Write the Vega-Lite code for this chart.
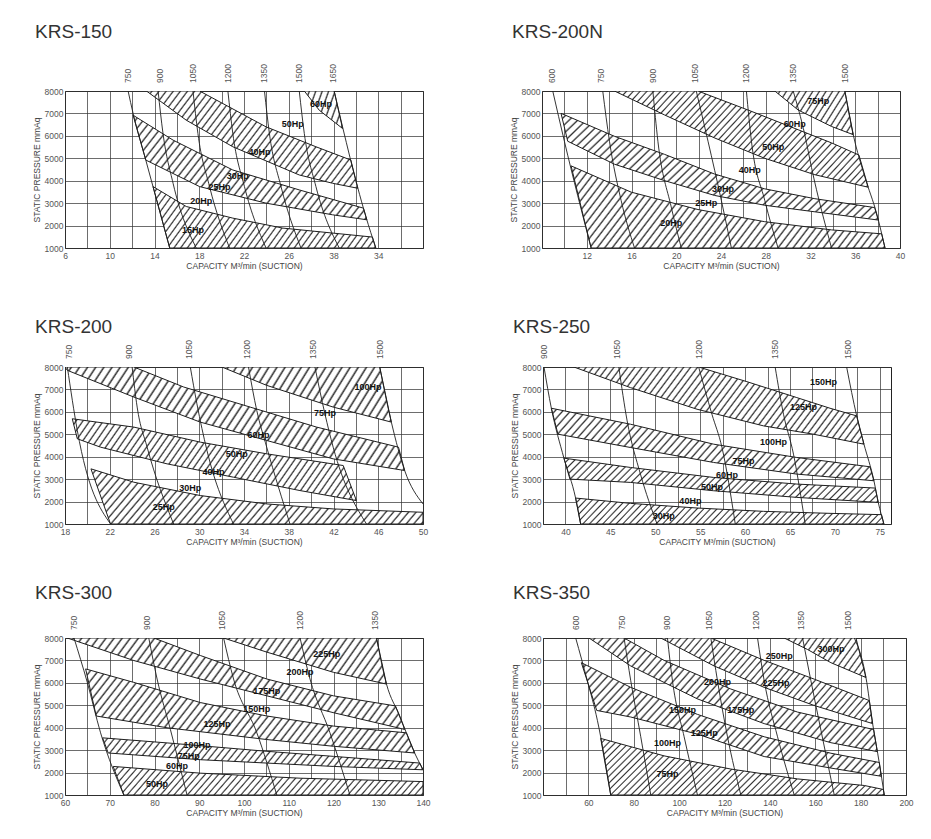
{
"$schema":"https://vega.github.io/schema/vega-lite/v6.json",
"background":"white",
"padding":{"left":31,"top":22,"right":5,"bottom":5},
"params":[
{"name":"s8","value":[{"offset":0,"color":"#fff"},{"offset":0.07,"color":"#fff"},{"offset":0.1,"color":"#333"},{"offset":0.125,"color":"#fff"},{"offset":0.195,"color":"#fff"},{"offset":0.225,"color":"#333"},{"offset":0.25,"color":"#fff"},{"offset":0.32,"color":"#fff"},{"offset":0.35,"color":"#333"},{"offset":0.375,"color":"#fff"},{"offset":0.445,"color":"#fff"},{"offset":0.475,"color":"#333"},{"offset":0.5,"color":"#fff"},{"offset":0.57,"color":"#fff"},{"offset":0.6,"color":"#333"},{"offset":0.625,"color":"#fff"},{"offset":0.695,"color":"#fff"},{"offset":0.725,"color":"#333"},{"offset":0.75,"color":"#fff"},{"offset":0.82,"color":"#fff"},{"offset":0.85,"color":"#333"},{"offset":0.875,"color":"#fff"},{"offset":0.945,"color":"#fff"},{"offset":0.975,"color":"#333"},{"offset":1,"color":"#fff"}]},
{"name":"s16","value":[{"offset":0,"color":"#fff"},{"offset":0.035,"color":"#fff"},{"offset":0.05,"color":"#333"},{"offset":0.0625,"color":"#fff"},{"offset":0.0975,"color":"#fff"},{"offset":0.1125,"color":"#333"},{"offset":0.125,"color":"#fff"},{"offset":0.16,"color":"#fff"},{"offset":0.175,"color":"#333"},{"offset":0.1875,"color":"#fff"},{"offset":0.2225,"color":"#fff"},{"offset":0.2375,"color":"#333"},{"offset":0.25,"color":"#fff"},{"offset":0.285,"color":"#fff"},{"offset":0.3,"color":"#333"},{"offset":0.3125,"color":"#fff"},{"offset":0.3475,"color":"#fff"},{"offset":0.3625,"color":"#333"},{"offset":0.375,"color":"#fff"},{"offset":0.41,"color":"#fff"},{"offset":0.425,"color":"#333"},{"offset":0.4375,"color":"#fff"},{"offset":0.4725,"color":"#fff"},{"offset":0.4875,"color":"#333"},{"offset":0.5,"color":"#fff"},{"offset":0.535,"color":"#fff"},{"offset":0.55,"color":"#333"},{"offset":0.5625,"color":"#fff"},{"offset":0.5975,"color":"#fff"},{"offset":0.6125,"color":"#333"},{"offset":0.625,"color":"#fff"},{"offset":0.66,"color":"#fff"},{"offset":0.675,"color":"#333"},{"offset":0.6875,"color":"#fff"},{"offset":0.7225,"color":"#fff"},{"offset":0.7375,"color":"#333"},{"offset":0.75,"color":"#fff"},{"offset":0.785,"color":"#fff"},{"offset":0.8,"color":"#333"},{"offset":0.8125,"color":"#fff"},{"offset":0.8475,"color":"#fff"},{"offset":0.8625,"color":"#333"},{"offset":0.875,"color":"#fff"},{"offset":0.91,"color":"#fff"},{"offset":0.925,"color":"#333"},{"offset":0.9375,"color":"#fff"},{"offset":0.9725,"color":"#fff"},{"offset":0.9875,"color":"#333"},{"offset":1,"color":"#fff"}]},
{"name":"s25","value":[{"offset":0,"color":"#fff"},{"offset":0.022,"color":"#fff"},{"offset":0.032,"color":"#333"},{"offset":0.04,"color":"#fff"},{"offset":0.062,"color":"#fff"},{"offset":0.072,"color":"#333"},{"offset":0.08,"color":"#fff"},{"offset":0.102,"color":"#fff"},{"offset":0.112,"color":"#333"},{"offset":0.12,"color":"#fff"},{"offset":0.142,"color":"#fff"},{"offset":0.152,"color":"#333"},{"offset":0.16,"color":"#fff"},{"offset":0.182,"color":"#fff"},{"offset":0.192,"color":"#333"},{"offset":0.2,"color":"#fff"},{"offset":0.222,"color":"#fff"},{"offset":0.232,"color":"#333"},{"offset":0.24,"color":"#fff"},{"offset":0.262,"color":"#fff"},{"offset":0.272,"color":"#333"},{"offset":0.28,"color":"#fff"},{"offset":0.302,"color":"#fff"},{"offset":0.312,"color":"#333"},{"offset":0.32,"color":"#fff"},{"offset":0.342,"color":"#fff"},{"offset":0.352,"color":"#333"},{"offset":0.36,"color":"#fff"},{"offset":0.382,"color":"#fff"},{"offset":0.392,"color":"#333"},{"offset":0.4,"color":"#fff"},{"offset":0.422,"color":"#fff"},{"offset":0.432,"color":"#333"},{"offset":0.44,"color":"#fff"},{"offset":0.462,"color":"#fff"},{"offset":0.472,"color":"#333"},{"offset":0.48,"color":"#fff"},{"offset":0.502,"color":"#fff"},{"offset":0.512,"color":"#333"},{"offset":0.52,"color":"#fff"},{"offset":0.542,"color":"#fff"},{"offset":0.552,"color":"#333"},{"offset":0.56,"color":"#fff"},{"offset":0.582,"color":"#fff"},{"offset":0.592,"color":"#333"},{"offset":0.6,"color":"#fff"},{"offset":0.622,"color":"#fff"},{"offset":0.632,"color":"#333"},{"offset":0.64,"color":"#fff"},{"offset":0.662,"color":"#fff"},{"offset":0.672,"color":"#333"},{"offset":0.68,"color":"#fff"},{"offset":0.702,"color":"#fff"},{"offset":0.712,"color":"#333"},{"offset":0.72,"color":"#fff"},{"offset":0.742,"color":"#fff"},{"offset":0.752,"color":"#333"},{"offset":0.76,"color":"#fff"},{"offset":0.782,"color":"#fff"},{"offset":0.792,"color":"#333"},{"offset":0.8,"color":"#fff"},{"offset":0.822,"color":"#fff"},{"offset":0.832,"color":"#333"},{"offset":0.84,"color":"#fff"},{"offset":0.862,"color":"#fff"},{"offset":0.872,"color":"#333"},{"offset":0.88,"color":"#fff"},{"offset":0.902,"color":"#fff"},{"offset":0.912,"color":"#333"},{"offset":0.92,"color":"#fff"},{"offset":0.942,"color":"#fff"},{"offset":0.952,"color":"#333"},{"offset":0.96,"color":"#fff"},{"offset":0.982,"color":"#fff"},{"offset":0.992,"color":"#333"},{"offset":1,"color":"#fff"}]},
{"name":"s40","value":[{"offset":0,"color":"#fff"},{"offset":0.014,"color":"#fff"},{"offset":0.02,"color":"#333"},{"offset":0.025,"color":"#fff"},{"offset":0.039,"color":"#fff"},{"offset":0.045,"color":"#333"},{"offset":0.05,"color":"#fff"},{"offset":0.064,"color":"#fff"},{"offset":0.07,"color":"#333"},{"offset":0.075,"color":"#fff"},{"offset":0.089,"color":"#fff"},{"offset":0.095,"color":"#333"},{"offset":0.1,"color":"#fff"},{"offset":0.114,"color":"#fff"},{"offset":0.12,"color":"#333"},{"offset":0.125,"color":"#fff"},{"offset":0.139,"color":"#fff"},{"offset":0.145,"color":"#333"},{"offset":0.15,"color":"#fff"},{"offset":0.164,"color":"#fff"},{"offset":0.17,"color":"#333"},{"offset":0.175,"color":"#fff"},{"offset":0.189,"color":"#fff"},{"offset":0.195,"color":"#333"},{"offset":0.2,"color":"#fff"},{"offset":0.214,"color":"#fff"},{"offset":0.22,"color":"#333"},{"offset":0.225,"color":"#fff"},{"offset":0.239,"color":"#fff"},{"offset":0.245,"color":"#333"},{"offset":0.25,"color":"#fff"},{"offset":0.264,"color":"#fff"},{"offset":0.27,"color":"#333"},{"offset":0.275,"color":"#fff"},{"offset":0.289,"color":"#fff"},{"offset":0.295,"color":"#333"},{"offset":0.3,"color":"#fff"},{"offset":0.314,"color":"#fff"},{"offset":0.32,"color":"#333"},{"offset":0.325,"color":"#fff"},{"offset":0.339,"color":"#fff"},{"offset":0.345,"color":"#333"},{"offset":0.35,"color":"#fff"},{"offset":0.364,"color":"#fff"},{"offset":0.37,"color":"#333"},{"offset":0.375,"color":"#fff"},{"offset":0.389,"color":"#fff"},{"offset":0.395,"color":"#333"},{"offset":0.4,"color":"#fff"},{"offset":0.414,"color":"#fff"},{"offset":0.42,"color":"#333"},{"offset":0.425,"color":"#fff"},{"offset":0.439,"color":"#fff"},{"offset":0.445,"color":"#333"},{"offset":0.45,"color":"#fff"},{"offset":0.464,"color":"#fff"},{"offset":0.47,"color":"#333"},{"offset":0.475,"color":"#fff"},{"offset":0.489,"color":"#fff"},{"offset":0.495,"color":"#333"},{"offset":0.5,"color":"#fff"},{"offset":0.514,"color":"#fff"},{"offset":0.52,"color":"#333"},{"offset":0.525,"color":"#fff"},{"offset":0.539,"color":"#fff"},{"offset":0.545,"color":"#333"},{"offset":0.55,"color":"#fff"},{"offset":0.564,"color":"#fff"},{"offset":0.57,"color":"#333"},{"offset":0.575,"color":"#fff"},{"offset":0.589,"color":"#fff"},{"offset":0.595,"color":"#333"},{"offset":0.6,"color":"#fff"},{"offset":0.614,"color":"#fff"},{"offset":0.62,"color":"#333"},{"offset":0.625,"color":"#fff"},{"offset":0.639,"color":"#fff"},{"offset":0.645,"color":"#333"},{"offset":0.65,"color":"#fff"},{"offset":0.664,"color":"#fff"},{"offset":0.67,"color":"#333"},{"offset":0.675,"color":"#fff"},{"offset":0.689,"color":"#fff"},{"offset":0.695,"color":"#333"},{"offset":0.7,"color":"#fff"},{"offset":0.714,"color":"#fff"},{"offset":0.72,"color":"#333"},{"offset":0.725,"color":"#fff"},{"offset":0.739,"color":"#fff"},{"offset":0.745,"color":"#333"},{"offset":0.75,"color":"#fff"},{"offset":0.764,"color":"#fff"},{"offset":0.77,"color":"#333"},{"offset":0.775,"color":"#fff"},{"offset":0.789,"color":"#fff"},{"offset":0.795,"color":"#333"},{"offset":0.8,"color":"#fff"},{"offset":0.814,"color":"#fff"},{"offset":0.82,"color":"#333"},{"offset":0.825,"color":"#fff"},{"offset":0.839,"color":"#fff"},{"offset":0.845,"color":"#333"},{"offset":0.85,"color":"#fff"},{"offset":0.864,"color":"#fff"},{"offset":0.87,"color":"#333"},{"offset":0.875,"color":"#fff"},{"offset":0.889,"color":"#fff"},{"offset":0.895,"color":"#333"},{"offset":0.9,"color":"#fff"},{"offset":0.914,"color":"#fff"},{"offset":0.92,"color":"#333"},{"offset":0.925,"color":"#fff"},{"offset":0.939,"color":"#fff"},{"offset":0.945,"color":"#333"},{"offset":0.95,"color":"#fff"},{"offset":0.964,"color":"#fff"},{"offset":0.97,"color":"#333"},{"offset":0.975,"color":"#fff"},{"offset":0.989,"color":"#fff"},{"offset":0.995,"color":"#333"},{"offset":1,"color":"#fff"}]},
{"name":"s50","value":[{"offset":0,"color":"#fff"},{"offset":0.011,"color":"#fff"},{"offset":0.016,"color":"#333"},{"offset":0.02,"color":"#fff"},{"offset":0.031,"color":"#fff"},{"offset":0.036,"color":"#333"},{"offset":0.04,"color":"#fff"},{"offset":0.051,"color":"#fff"},{"offset":0.056,"color":"#333"},{"offset":0.06,"color":"#fff"},{"offset":0.071,"color":"#fff"},{"offset":0.076,"color":"#333"},{"offset":0.08,"color":"#fff"},{"offset":0.091,"color":"#fff"},{"offset":0.096,"color":"#333"},{"offset":0.1,"color":"#fff"},{"offset":0.111,"color":"#fff"},{"offset":0.116,"color":"#333"},{"offset":0.12,"color":"#fff"},{"offset":0.131,"color":"#fff"},{"offset":0.136,"color":"#333"},{"offset":0.14,"color":"#fff"},{"offset":0.151,"color":"#fff"},{"offset":0.156,"color":"#333"},{"offset":0.16,"color":"#fff"},{"offset":0.171,"color":"#fff"},{"offset":0.176,"color":"#333"},{"offset":0.18,"color":"#fff"},{"offset":0.191,"color":"#fff"},{"offset":0.196,"color":"#333"},{"offset":0.2,"color":"#fff"},{"offset":0.211,"color":"#fff"},{"offset":0.216,"color":"#333"},{"offset":0.22,"color":"#fff"},{"offset":0.231,"color":"#fff"},{"offset":0.236,"color":"#333"},{"offset":0.24,"color":"#fff"},{"offset":0.251,"color":"#fff"},{"offset":0.256,"color":"#333"},{"offset":0.26,"color":"#fff"},{"offset":0.271,"color":"#fff"},{"offset":0.276,"color":"#333"},{"offset":0.28,"color":"#fff"},{"offset":0.291,"color":"#fff"},{"offset":0.296,"color":"#333"},{"offset":0.3,"color":"#fff"},{"offset":0.311,"color":"#fff"},{"offset":0.316,"color":"#333"},{"offset":0.32,"color":"#fff"},{"offset":0.331,"color":"#fff"},{"offset":0.336,"color":"#333"},{"offset":0.34,"color":"#fff"},{"offset":0.351,"color":"#fff"},{"offset":0.356,"color":"#333"},{"offset":0.36,"color":"#fff"},{"offset":0.371,"color":"#fff"},{"offset":0.376,"color":"#333"},{"offset":0.38,"color":"#fff"},{"offset":0.391,"color":"#fff"},{"offset":0.396,"color":"#333"},{"offset":0.4,"color":"#fff"},{"offset":0.411,"color":"#fff"},{"offset":0.416,"color":"#333"},{"offset":0.42,"color":"#fff"},{"offset":0.431,"color":"#fff"},{"offset":0.436,"color":"#333"},{"offset":0.44,"color":"#fff"},{"offset":0.451,"color":"#fff"},{"offset":0.456,"color":"#333"},{"offset":0.46,"color":"#fff"},{"offset":0.471,"color":"#fff"},{"offset":0.476,"color":"#333"},{"offset":0.48,"color":"#fff"},{"offset":0.491,"color":"#fff"},{"offset":0.496,"color":"#333"},{"offset":0.5,"color":"#fff"},{"offset":0.511,"color":"#fff"},{"offset":0.516,"color":"#333"},{"offset":0.52,"color":"#fff"},{"offset":0.531,"color":"#fff"},{"offset":0.536,"color":"#333"},{"offset":0.54,"color":"#fff"},{"offset":0.551,"color":"#fff"},{"offset":0.556,"color":"#333"},{"offset":0.56,"color":"#fff"},{"offset":0.571,"color":"#fff"},{"offset":0.576,"color":"#333"},{"offset":0.58,"color":"#fff"},{"offset":0.591,"color":"#fff"},{"offset":0.596,"color":"#333"},{"offset":0.6,"color":"#fff"},{"offset":0.611,"color":"#fff"},{"offset":0.616,"color":"#333"},{"offset":0.62,"color":"#fff"},{"offset":0.631,"color":"#fff"},{"offset":0.636,"color":"#333"},{"offset":0.64,"color":"#fff"},{"offset":0.651,"color":"#fff"},{"offset":0.656,"color":"#333"},{"offset":0.66,"color":"#fff"},{"offset":0.671,"color":"#fff"},{"offset":0.676,"color":"#333"},{"offset":0.68,"color":"#fff"},{"offset":0.691,"color":"#fff"},{"offset":0.696,"color":"#333"},{"offset":0.7,"color":"#fff"},{"offset":0.711,"color":"#fff"},{"offset":0.716,"color":"#333"},{"offset":0.72,"color":"#fff"},{"offset":0.731,"color":"#fff"},{"offset":0.736,"color":"#333"},{"offset":0.74,"color":"#fff"},{"offset":0.751,"color":"#fff"},{"offset":0.756,"color":"#333"},{"offset":0.76,"color":"#fff"},{"offset":0.771,"color":"#fff"},{"offset":0.776,"color":"#333"},{"offset":0.78,"color":"#fff"},{"offset":0.791,"color":"#fff"},{"offset":0.796,"color":"#333"},{"offset":0.8,"color":"#fff"},{"offset":0.811,"color":"#fff"},{"offset":0.816,"color":"#333"},{"offset":0.82,"color":"#fff"},{"offset":0.831,"color":"#fff"},{"offset":0.836,"color":"#333"},{"offset":0.84,"color":"#fff"},{"offset":0.851,"color":"#fff"},{"offset":0.856,"color":"#333"},{"offset":0.86,"color":"#fff"},{"offset":0.871,"color":"#fff"},{"offset":0.876,"color":"#333"},{"offset":0.88,"color":"#fff"},{"offset":0.891,"color":"#fff"},{"offset":0.896,"color":"#333"},{"offset":0.9,"color":"#fff"},{"offset":0.911,"color":"#fff"},{"offset":0.916,"color":"#333"},{"offset":0.92,"color":"#fff"},{"offset":0.931,"color":"#fff"},{"offset":0.936,"color":"#333"},{"offset":0.94,"color":"#fff"},{"offset":0.951,"color":"#fff"},{"offset":0.956,"color":"#333"},{"offset":0.96,"color":"#fff"},{"offset":0.971,"color":"#fff"},{"offset":0.976,"color":"#333"},{"offset":0.98,"color":"#fff"},{"offset":0.991,"color":"#fff"},{"offset":0.996,"color":"#333"},{"offset":1,"color":"#fff"}]},
{"name":"a8","expr":"{gradient:'linear',x1:0,y1:0,x2:1.2,y2:0.42,stops:s8}"},
{"name":"a16","expr":"{gradient:'linear',x1:0,y1:0,x2:1.2,y2:0.42,stops:s16}"},
{"name":"a40","expr":"{gradient:'linear',x1:0,y1:0,x2:1.2,y2:0.42,stops:s40}"},
{"name":"a50","expr":"{gradient:'linear',x1:0,y1:0,x2:1.2,y2:0.42,stops:s50}"},
{"name":"b25","expr":"{gradient:'linear',x1:0,y1:0,x2:1.154,y2:0.231,stops:s25}"},
{"name":"b40","expr":"{gradient:'linear',x1:0,y1:0,x2:1.154,y2:0.231,stops:s40}"},
{"name":"b50","expr":"{gradient:'linear',x1:0,y1:0,x2:1.154,y2:0.231,stops:s50}"},
{"name":"c50","expr":"{gradient:'linear',x1:0,y1:0,x2:1.118,y2:0.157,stops:s50}"},
{"name":"d50","expr":"{gradient:'linear',x1:0,y1:0,x2:1.073,y2:0.086,stops:s50}"}
],
"datasets":{
"bands":[
{"c":"150","b":1,"o":1,"x":13.87,"y":3738},{"c":"150","b":1,"o":2,"x":16.84,"y":2850},{"c":"150","b":1,"o":3,"x":21.0,"y":2332},{"c":"150","b":1,"o":4,"x":25.46,"y":1888},{"c":"150","b":1,"o":5,"x":29.92,"y":1666},{"c":"150","b":1,"o":6,"x":33.48,"y":1488},{"c":"150","b":1,"o":7,"x":33.78,"y":1000},{"c":"150","b":1,"o":8,"x":15.36,"y":1000},{"c":"150","b":1,"o":9,"x":13.87,"y":3738},
{"c":"150","b":2,"o":1,"x":12.09,"y":6920},{"c":"150","b":2,"o":2,"x":15.66,"y":5810},{"c":"150","b":2,"o":3,"x":21.0,"y":4478},{"c":"150","b":2,"o":4,"x":26.94,"y":3590},{"c":"150","b":2,"o":5,"x":32.68,"y":2776},{"c":"150","b":2,"o":6,"x":32.98,"y":2258},{"c":"150","b":2,"o":7,"x":29.92,"y":2480},{"c":"150","b":2,"o":8,"x":23.97,"y":3000},{"c":"150","b":2,"o":9,"x":18.03,"y":3738},{"c":"150","b":2,"o":10,"x":13.22,"y":4922},{"c":"150","b":2,"o":11,"x":12.09,"y":6920},
{"c":"150","b":3,"o":1,"x":13.28,"y":8000},{"c":"150","b":3,"o":2,"x":18.03,"y":8000},{"c":"150","b":3,"o":3,"x":23.97,"y":6402},{"c":"150","b":3,"o":4,"x":28.43,"y":5514},{"c":"150","b":3,"o":5,"x":31.55,"y":4922},{"c":"150","b":3,"o":6,"x":32.17,"y":3664},{"c":"150","b":3,"o":7,"x":29.92,"y":3886},{"c":"150","b":3,"o":8,"x":26.94,"y":4256},{"c":"150","b":3,"o":9,"x":21.0,"y":5514},{"c":"150","b":3,"o":10,"x":16.84,"y":6698},{"c":"150","b":3,"o":11,"x":13.28,"y":8000},
{"c":"150","b":4,"o":1,"x":27.39,"y":8000},{"c":"150","b":4,"o":2,"x":30.06,"y":8000},{"c":"150","b":4,"o":3,"x":30.81,"y":6328},{"c":"150","b":4,"o":4,"x":28.73,"y":7142},{"c":"150","b":4,"o":5,"x":27.39,"y":8000},
{"c":"200N","b":1,"o":1,"x":28.81,"y":8000},{"c":"200N","b":1,"o":2,"x":35.07,"y":8000},{"c":"200N","b":1,"o":3,"x":35.82,"y":6053},{"c":"200N","b":1,"o":4,"x":33.88,"y":6419},{"c":"200N","b":1,"o":5,"x":30.9,"y":7151},{"c":"200N","b":1,"o":6,"x":28.81,"y":8000},
{"c":"200N","b":2,"o":1,"x":14.48,"y":8000},{"c":"200N","b":2,"o":2,"x":21.94,"y":8000},{"c":"200N","b":2,"o":3,"x":26.42,"y":7151},{"c":"200N","b":2,"o":4,"x":30.9,"y":6272},{"c":"200N","b":2,"o":5,"x":33.88,"y":5687},{"c":"200N","b":2,"o":6,"x":36.33,"y":5145},{"c":"200N","b":2,"o":7,"x":37.16,"y":3710},{"c":"200N","b":2,"o":8,"x":32.39,"y":4267},{"c":"200N","b":2,"o":9,"x":27.91,"y":4999},{"c":"200N","b":2,"o":10,"x":23.43,"y":5906},{"c":"200N","b":2,"o":11,"x":18.96,"y":6931},{"c":"200N","b":2,"o":12,"x":14.48,"y":8000},
{"c":"200N","b":3,"o":1,"x":9.7,"y":7004},{"c":"200N","b":3,"o":2,"x":14.48,"y":5980},{"c":"200N","b":3,"o":3,"x":18.96,"y":5174},{"c":"200N","b":3,"o":4,"x":23.43,"y":4296},{"c":"200N","b":3,"o":5,"x":27.91,"y":3637},{"c":"200N","b":3,"o":6,"x":32.39,"y":3198},{"c":"200N","b":3,"o":7,"x":37.73,"y":2803},{"c":"200N","b":3,"o":8,"x":38.06,"y":2246},{"c":"200N","b":3,"o":9,"x":32.39,"y":2613},{"c":"200N","b":3,"o":10,"x":27.91,"y":2905},{"c":"200N","b":3,"o":11,"x":23.43,"y":3344},{"c":"200N","b":3,"o":12,"x":18.96,"y":4003},{"c":"200N","b":3,"o":13,"x":14.48,"y":4735},{"c":"200N","b":3,"o":14,"x":10.3,"y":5760},{"c":"200N","b":3,"o":15,"x":9.7,"y":7004},
{"c":"200N","b":4,"o":1,"x":10.6,"y":4662},{"c":"200N","b":4,"o":2,"x":15.97,"y":3491},{"c":"200N","b":4,"o":3,"x":21.94,"y":2715},{"c":"200N","b":4,"o":4,"x":27.91,"y":2173},{"c":"200N","b":4,"o":5,"x":33.88,"y":1807},{"c":"200N","b":4,"o":6,"x":38.36,"y":1632},{"c":"200N","b":4,"o":7,"x":38.66,"y":1000},{"c":"200N","b":4,"o":8,"x":12.39,"y":1000},{"c":"200N","b":4,"o":9,"x":10.6,"y":4662},
{"c":"200","b":1,"o":1,"x":18,"y":8000},{"c":"200","b":1,"o":2,"x":24.15,"y":8000},{"c":"200","b":1,"o":3,"x":28.61,"y":7107},{"c":"200","b":1,"o":4,"x":34.55,"y":6213},{"c":"200","b":1,"o":5,"x":40.49,"y":5320},{"c":"200","b":1,"o":6,"x":47.81,"y":4426},{"c":"200","b":1,"o":7,"x":48.36,"y":3384},{"c":"200","b":1,"o":8,"x":41.97,"y":3905},{"c":"200","b":1,"o":9,"x":36.03,"y":4724},{"c":"200","b":1,"o":10,"x":30.09,"y":5543},{"c":"200","b":1,"o":11,"x":24.15,"y":6660},{"c":"200","b":1,"o":12,"x":18.21,"y":7851},{"c":"200","b":1,"o":13,"x":18,"y":8000},
{"c":"200","b":2,"o":1,"x":32.02,"y":8000},{"c":"200","b":2,"o":2,"x":46.13,"y":8000},{"c":"200","b":2,"o":3,"x":47.17,"y":5543},{"c":"200","b":2,"o":4,"x":41.97,"y":6213},{"c":"200","b":2,"o":5,"x":36.03,"y":7181},{"c":"200","b":2,"o":6,"x":32.02,"y":8000},
{"c":"200","b":3,"o":1,"x":18.65,"y":5692},{"c":"200","b":3,"o":2,"x":24.15,"y":5320},{"c":"200","b":3,"o":3,"x":30.09,"y":4650},{"c":"200","b":3,"o":4,"x":36.03,"y":4129},{"c":"200","b":3,"o":5,"x":42.87,"y":3607},{"c":"200","b":3,"o":6,"x":44.05,"y":2044},{"c":"200","b":3,"o":7,"x":39.0,"y":2491},{"c":"200","b":3,"o":8,"x":33.06,"y":3087},{"c":"200","b":3,"o":9,"x":27.12,"y":3682},{"c":"200","b":3,"o":10,"x":21.18,"y":4426},{"c":"200","b":3,"o":11,"x":19.1,"y":4799},{"c":"200","b":3,"o":12,"x":18.65,"y":5692},
{"c":"200","b":4,"o":1,"x":20.32,"y":3459},{"c":"200","b":4,"o":2,"x":24.15,"y":2863},{"c":"200","b":4,"o":3,"x":30.09,"y":2268},{"c":"200","b":4,"o":4,"x":36.03,"y":1895},{"c":"200","b":4,"o":5,"x":41.97,"y":1672},{"c":"200","b":4,"o":6,"x":50,"y":1523},{"c":"200","b":4,"o":7,"x":50,"y":1000},{"c":"200","b":4,"o":8,"x":22.07,"y":1000},{"c":"200","b":4,"o":9,"x":20.32,"y":3459},
{"c":"250","b":1,"o":1,"x":40.94,"y":8000},{"c":"250","b":1,"o":2,"x":54.83,"y":8000},{"c":"250","b":1,"o":3,"x":60.2,"y":7347},{"c":"250","b":1,"o":4,"x":65.76,"y":6636},{"c":"250","b":1,"o":5,"x":69.46,"y":6161},{"c":"250","b":1,"o":6,"x":72.43,"y":5820},{"c":"250","b":1,"o":7,"x":73.24,"y":4559},{"c":"250","b":1,"o":8,"x":67.61,"y":5004},{"c":"250","b":1,"o":9,"x":62.06,"y":5375},{"c":"250","b":1,"o":10,"x":54.65,"y":6117},{"c":"250","b":1,"o":11,"x":47.24,"y":7081},{"c":"250","b":1,"o":12,"x":40.94,"y":8000},
{"c":"250","b":2,"o":1,"x":38.43,"y":6161},{"c":"250","b":2,"o":2,"x":47.24,"y":5449},{"c":"250","b":2,"o":3,"x":56.5,"y":4559},{"c":"250","b":2,"o":4,"x":65.76,"y":3966},{"c":"250","b":2,"o":5,"x":73.91,"y":3551},{"c":"250","b":2,"o":6,"x":74.35,"y":2928},{"c":"250","b":2,"o":7,"x":65.76,"y":3225},{"c":"250","b":2,"o":8,"x":56.5,"y":3744},{"c":"250","b":2,"o":9,"x":47.24,"y":4411},{"c":"250","b":2,"o":10,"x":39.17,"y":5004},{"c":"250","b":2,"o":11,"x":38.43,"y":6161},
{"c":"250","b":3,"o":1,"x":39.83,"y":3937},{"c":"250","b":3,"o":2,"x":47.24,"y":3521},{"c":"250","b":3,"o":3,"x":56.5,"y":3076},{"c":"250","b":3,"o":4,"x":65.76,"y":2780},{"c":"250","b":3,"o":5,"x":74.5,"y":2602},{"c":"250","b":3,"o":6,"x":74.83,"y":1964},{"c":"250","b":3,"o":7,"x":65.76,"y":2187},{"c":"250","b":3,"o":8,"x":56.5,"y":2483},{"c":"250","b":3,"o":9,"x":47.24,"y":2854},{"c":"250","b":3,"o":10,"x":40.5,"y":3002},{"c":"250","b":3,"o":11,"x":39.83,"y":3937},
{"c":"250","b":4,"o":1,"x":41.13,"y":2157},{"c":"250","b":4,"o":2,"x":47.24,"y":1920},{"c":"250","b":4,"o":3,"x":54.65,"y":1712},{"c":"250","b":4,"o":4,"x":62.06,"y":1564},{"c":"250","b":4,"o":5,"x":69.46,"y":1475},{"c":"250","b":4,"o":6,"x":75.2,"y":1416},{"c":"250","b":4,"o":7,"x":75.46,"y":1000},{"c":"250","b":4,"o":8,"x":41.69,"y":1000},{"c":"250","b":4,"o":9,"x":41.13,"y":2157},
{"c":"300","b":1,"o":1,"x":60.52,"y":8000},{"c":"300","b":1,"o":2,"x":79.84,"y":8000},{"c":"300","b":1,"o":3,"x":90.24,"y":7220},{"c":"300","b":1,"o":4,"x":105.1,"y":6171},{"c":"300","b":1,"o":5,"x":119.96,"y":5422},{"c":"300","b":1,"o":6,"x":133.85,"y":4972},{"c":"300","b":1,"o":7,"x":135.93,"y":3923},{"c":"300","b":1,"o":8,"x":119.96,"y":4672},{"c":"300","b":1,"o":9,"x":105.1,"y":5422},{"c":"300","b":1,"o":10,"x":90.24,"y":6171},{"c":"300","b":1,"o":11,"x":75.38,"y":6996},{"c":"300","b":1,"o":12,"x":60.52,"y":8000},
{"c":"300","b":2,"o":1,"x":95.44,"y":8000},{"c":"300","b":2,"o":2,"x":129.61,"y":8000},{"c":"300","b":2,"o":3,"x":131.84,"y":5946},{"c":"300","b":2,"o":4,"x":119.96,"y":6471},{"c":"300","b":2,"o":5,"x":112.53,"y":6921},{"c":"300","b":2,"o":6,"x":105.1,"y":7370},{"c":"300","b":2,"o":7,"x":95.44,"y":8000},
{"c":"300","b":3,"o":1,"x":64.61,"y":6621},{"c":"300","b":3,"o":2,"x":75.38,"y":6021},{"c":"300","b":3,"o":3,"x":90.24,"y":5122},{"c":"300","b":3,"o":4,"x":105.1,"y":4522},{"c":"300","b":3,"o":5,"x":119.96,"y":4073},{"c":"300","b":3,"o":6,"x":136.3,"y":3773},{"c":"300","b":3,"o":7,"x":138.16,"y":2873},{"c":"300","b":3,"o":8,"x":119.96,"y":3173},{"c":"300","b":3,"o":9,"x":105.1,"y":3473},{"c":"300","b":3,"o":10,"x":82.81,"y":3998},{"c":"300","b":3,"o":11,"x":66.98,"y":4522},{"c":"300","b":3,"o":12,"x":64.61,"y":6621},
{"c":"300","b":4,"o":1,"x":68.4,"y":3548},{"c":"300","b":4,"o":2,"x":82.81,"y":3323},{"c":"300","b":4,"o":3,"x":105.1,"y":2948},{"c":"300","b":4,"o":4,"x":119.96,"y":2723},{"c":"300","b":4,"o":5,"x":139.27,"y":2424},{"c":"300","b":4,"o":6,"x":140,"y":2124},{"c":"300","b":4,"o":7,"x":119.96,"y":2274},{"c":"300","b":4,"o":8,"x":90.24,"y":2574},{"c":"300","b":4,"o":9,"x":69.66,"y":2873},{"c":"300","b":4,"o":10,"x":68.4,"y":3548},
{"c":"300","b":5,"o":1,"x":70.77,"y":2274},{"c":"300","b":5,"o":2,"x":90.24,"y":1974},{"c":"300","b":5,"o":3,"x":112.53,"y":1749},{"c":"300","b":5,"o":4,"x":140,"y":1599},{"c":"300","b":5,"o":5,"x":140,"y":1000},{"c":"300","b":5,"o":6,"x":73.15,"y":1000},{"c":"300","b":5,"o":7,"x":70.77,"y":2274},
{"c":"350","b":1,"o":1,"x":146.32,"y":8000},{"c":"350","b":1,"o":2,"x":177.94,"y":8000},{"c":"350","b":1,"o":3,"x":182.35,"y":6238},{"c":"350","b":1,"o":4,"x":166.91,"y":6899},{"c":"350","b":1,"o":5,"x":156.62,"y":7486},{"c":"350","b":1,"o":6,"x":146.32,"y":8000},
{"c":"350","b":2,"o":1,"x":91.91,"y":8000},{"c":"350","b":2,"o":2,"x":113.97,"y":8000},{"c":"350","b":2,"o":3,"x":137.5,"y":7002},{"c":"350","b":2,"o":4,"x":159.56,"y":6165},{"c":"350","b":2,"o":5,"x":183.82,"y":5211},{"c":"350","b":2,"o":6,"x":185.29,"y":4183},{"c":"350","b":2,"o":7,"x":159.56,"y":4991},{"c":"350","b":2,"o":8,"x":137.5,"y":5798},{"c":"350","b":2,"o":9,"x":115.44,"y":6752},{"c":"350","b":2,"o":10,"x":91.91,"y":8000},
{"c":"350","b":3,"o":1,"x":60.29,"y":8000},{"c":"350","b":3,"o":2,"x":75.74,"y":8000},{"c":"350","b":3,"o":3,"x":93.38,"y":7002},{"c":"350","b":3,"o":4,"x":122.79,"y":5725},{"c":"350","b":3,"o":5,"x":152.21,"y":4697},{"c":"350","b":3,"o":6,"x":185.74,"y":3919},{"c":"350","b":3,"o":7,"x":187.35,"y":2935},{"c":"350","b":3,"o":8,"x":166.91,"y":3332},{"c":"350","b":3,"o":9,"x":137.5,"y":4183},{"c":"350","b":3,"o":10,"x":108.09,"y":5284},{"c":"350","b":3,"o":11,"x":78.68,"y":6752},{"c":"350","b":3,"o":12,"x":60.29,"y":8000},
{"c":"350","b":4,"o":1,"x":56.91,"y":6899},{"c":"350","b":4,"o":2,"x":78.68,"y":5798},{"c":"350","b":4,"o":3,"x":108.09,"y":4594},{"c":"350","b":4,"o":4,"x":137.5,"y":3596},{"c":"350","b":4,"o":5,"x":166.91,"y":2862},{"c":"350","b":4,"o":6,"x":188.24,"y":2451},{"c":"350","b":4,"o":7,"x":189.12,"y":1834},{"c":"350","b":4,"o":8,"x":166.91,"y":2201},{"c":"350","b":4,"o":9,"x":137.5,"y":2715},{"c":"350","b":4,"o":10,"x":108.09,"y":3713},{"c":"350","b":4,"o":11,"x":78.68,"y":4477},{"c":"350","b":4,"o":12,"x":63.68,"y":4770},{"c":"350","b":4,"o":13,"x":56.91,"y":6899},
{"c":"350","b":5,"o":1,"x":65.44,"y":3523},{"c":"350","b":5,"o":2,"x":93.38,"y":2745},{"c":"350","b":5,"o":3,"x":122.79,"y":2157},{"c":"350","b":5,"o":4,"x":152.21,"y":1717},{"c":"350","b":5,"o":5,"x":181.62,"y":1424},{"c":"350","b":5,"o":6,"x":190.0,"y":1247},{"c":"350","b":5,"o":7,"x":190.44,"y":1000},{"c":"350","b":5,"o":8,"x":69.85,"y":1000},{"c":"350","b":5,"o":9,"x":65.44,"y":3523}
],
"lines":[
{"c":"150","l":"750","x":11.64,"y":8000},{"c":"150","l":"750","x":12.09,"y":6994},{"c":"150","l":"750","x":13.22,"y":4922},{"c":"150","l":"750","x":15.36,"y":1000},
{"c":"150","l":"900","x":14.32,"y":8000},{"c":"150","l":"900","x":14.76,"y":6106},{"c":"150","l":"900","x":15.66,"y":3886},{"c":"150","l":"900","x":17.73,"y":1000},
{"c":"150","l":"1050","x":17.44,"y":8000},{"c":"150","l":"1050","x":17.88,"y":6106},{"c":"150","l":"1050","x":18.92,"y":3738},{"c":"150","l":"1050","x":20.71,"y":1000},
{"c":"150","l":"1200","x":20.56,"y":8000},{"c":"150","l":"1200","x":21.0,"y":6106},{"c":"150","l":"1200","x":22.04,"y":3738},{"c":"150","l":"1200","x":23.97,"y":1000},
{"c":"150","l":"1350","x":23.83,"y":8000},{"c":"150","l":"1350","x":24.27,"y":6106},{"c":"150","l":"1350","x":25.31,"y":3738},{"c":"150","l":"1350","x":27.09,"y":1000},
{"c":"150","l":"1500","x":26.94,"y":8000},{"c":"150","l":"1500","x":27.39,"y":6106},{"c":"150","l":"1500","x":28.43,"y":3738},{"c":"150","l":"1500","x":30.51,"y":1000},
{"c":"150","l":"1650","x":30.06,"y":8000},{"c":"150","l":"1650","x":30.81,"y":6402},{"c":"150","l":"1650","x":32.14,"y":3738},{"c":"150","l":"1650","x":32.89,"y":2406},{"c":"150","l":"1650","x":33.78,"y":1000},
{"c":"200N","l":"600","x":8.96,"y":8000},{"c":"200N","l":"600","x":10.0,"y":5760},{"c":"200N","l":"600","x":12.39,"y":1000},
{"c":"200N","l":"750","x":13.43,"y":8000},{"c":"200N","l":"750","x":14.03,"y":5760},{"c":"200N","l":"750","x":15.07,"y":3125},{"c":"200N","l":"750","x":16.27,"y":1000},
{"c":"200N","l":"900","x":17.91,"y":8000},{"c":"200N","l":"900","x":18.36,"y":5760},{"c":"200N","l":"900","x":19.55,"y":2832},{"c":"200N","l":"900","x":20.45,"y":1000},
{"c":"200N","l":"1050","x":21.79,"y":8000},{"c":"200N","l":"1050","x":22.84,"y":5760},{"c":"200N","l":"1050","x":24.03,"y":3125},{"c":"200N","l":"1050","x":24.93,"y":1000},
{"c":"200N","l":"1200","x":26.27,"y":8000},{"c":"200N","l":"1200","x":26.72,"y":5760},{"c":"200N","l":"1200","x":27.91,"y":3125},{"c":"200N","l":"1200","x":29.1,"y":1000},
{"c":"200N","l":"1350","x":30.45,"y":8000},{"c":"200N","l":"1350","x":31.49,"y":6053},{"c":"200N","l":"1350","x":32.09,"y":4589},{"c":"200N","l":"1350","x":33.88,"y":1000},
{"c":"200N","l":"1500","x":35.07,"y":8000},{"c":"200N","l":"1500","x":35.82,"y":6053},{"c":"200N","l":"1500","x":36.87,"y":4150},{"c":"200N","l":"1500","x":37.91,"y":2539},{"c":"200N","l":"1500","x":38.66,"y":1000},
{"c":"200","l":"750","x":18.21,"y":8000},{"c":"200","l":"750","x":19.1,"y":5171},{"c":"200","l":"750","x":22.07,"y":1000},
{"c":"200","l":"900","x":24.0,"y":8000},{"c":"200","l":"900","x":24.45,"y":6213},{"c":"200","l":"900","x":25.34,"y":4426},{"c":"200","l":"900","x":27.71,"y":1000},
{"c":"200","l":"1050","x":29.2,"y":8000},{"c":"200","l":"1050","x":29.79,"y":6362},{"c":"200","l":"1050","x":30.69,"y":4277},{"c":"200","l":"1050","x":33.06,"y":1000},
{"c":"200","l":"1200","x":34.4,"y":8000},{"c":"200","l":"1200","x":35.14,"y":6064},{"c":"200","l":"1200","x":36.03,"y":4426},{"c":"200","l":"1200","x":38.11,"y":1000},
{"c":"200","l":"1350","x":40.34,"y":8000},{"c":"200","l":"1350","x":41.23,"y":5915},{"c":"200","l":"1350","x":41.97,"y":4426},{"c":"200","l":"1350","x":44.95,"y":1000},
{"c":"200","l":"1500","x":46.13,"y":8000},{"c":"200","l":"1500","x":47.17,"y":5543},{"c":"200","l":"1500","x":48.36,"y":3384},{"c":"200","l":"1500","x":50,"y":1895},
{"c":"250","l":"900","x":37.61,"y":8000},{"c":"250","l":"900","x":38.43,"y":6161},{"c":"250","l":"900","x":39.83,"y":3937},{"c":"250","l":"900","x":41.13,"y":2157},{"c":"250","l":"900","x":41.69,"y":1000},
{"c":"250","l":"1050","x":45.94,"y":8000},{"c":"250","l":"1050","x":46.87,"y":5598},{"c":"250","l":"1050","x":48.35,"y":3225},{"c":"250","l":"1050","x":50.2,"y":1000},
{"c":"250","l":"1200","x":54.83,"y":8000},{"c":"250","l":"1200","x":56.31,"y":5894},{"c":"250","l":"1200","x":57.43,"y":4411},{"c":"250","l":"1200","x":58.91,"y":1000},
{"c":"250","l":"1350","x":63.35,"y":8000},{"c":"250","l":"1350","x":64.28,"y":5894},{"c":"250","l":"1350","x":65.39,"y":4115},{"c":"250","l":"1350","x":66.69,"y":1000},
{"c":"250","l":"1500","x":71.31,"y":8000},{"c":"250","l":"1500","x":72.43,"y":5820},{"c":"250","l":"1500","x":73.24,"y":4559},{"c":"250","l":"1500","x":74.35,"y":2928},{"c":"250","l":"1500","x":74.83,"y":1964},{"c":"250","l":"1500","x":75.46,"y":1000},
{"c":"300","l":"750","x":62.01,"y":8000},{"c":"300","l":"750","x":64.98,"y":6021},{"c":"300","l":"750","x":67.95,"y":3773},{"c":"300","l":"750","x":73.15,"y":1000},
{"c":"300","l":"900","x":78.72,"y":8000},{"c":"300","l":"900","x":80.58,"y":6171},{"c":"300","l":"900","x":83.55,"y":3923},{"c":"300","l":"900","x":87.27,"y":1000},
{"c":"300","l":"1050","x":95.44,"y":8000},{"c":"300","l":"1050","x":97.67,"y":6171},{"c":"300","l":"1050","x":102.87,"y":3773},{"c":"300","l":"1050","x":107.33,"y":1000},
{"c":"300","l":"1200","x":112.53,"y":8000},{"c":"300","l":"1200","x":114.75,"y":6171},{"c":"300","l":"1200","x":119.21,"y":3773},{"c":"300","l":"1200","x":123.67,"y":1000},
{"c":"300","l":"1350","x":129.61,"y":8000},{"c":"300","l":"1350","x":131.84,"y":5946},{"c":"300","l":"1350","x":134.81,"y":4522},{"c":"300","l":"1350","x":137.79,"y":3023},{"c":"300","l":"1350","x":140,"y":2124},
{"c":"350","l":"600","x":54.41,"y":8000},{"c":"350","l":"600","x":59.56,"y":6092},{"c":"350","l":"600","x":63.97,"y":4330},{"c":"350","l":"600","x":69.85,"y":1000},
{"c":"350","l":"750","x":75.74,"y":8000},{"c":"350","l":"750","x":78.68,"y":6092},{"c":"350","l":"750","x":83.09,"y":3596},{"c":"350","l":"750","x":87.5,"y":1000},
{"c":"350","l":"900","x":94.85,"y":8000},{"c":"350","l":"900","x":97.06,"y":6092},{"c":"350","l":"900","x":102.21,"y":3596},{"c":"350","l":"900","x":108.09,"y":1000},
{"c":"350","l":"1050","x":113.97,"y":8000},{"c":"350","l":"1050","x":116.91,"y":6092},{"c":"350","l":"1050","x":121.32,"y":3596},{"c":"350","l":"1050","x":127.21,"y":1000},
{"c":"350","l":"1200","x":134.56,"y":8000},{"c":"350","l":"1200","x":137.5,"y":6092},{"c":"350","l":"1200","x":143.38,"y":3596},{"c":"350","l":"1200","x":150.74,"y":1000},
{"c":"350","l":"1350","x":154.41,"y":8000},{"c":"350","l":"1350","x":158.09,"y":6092},{"c":"350","l":"1350","x":162.5,"y":3890},{"c":"350","l":"1350","x":168.38,"y":1000},
{"c":"350","l":"1500","x":177.21,"y":8000},{"c":"350","l":"1500","x":182.35,"y":6238},{"c":"350","l":"1500","x":185.29,"y":4183},{"c":"350","l":"1500","x":188.24,"y":2422},{"c":"350","l":"1500","x":190.44,"y":1000}
],
"hp":[
{"c":"150","t":"60Hp","x":28.88,"y":7438},{"c":"150","t":"50Hp","x":26.35,"y":6550},{"c":"150","t":"40Hp","x":23.38,"y":5292},{"c":"150","t":"30Hp","x":21.45,"y":4226},{"c":"150","t":"25Hp","x":19.81,"y":3738},{"c":"150","t":"20Hp","x":18.18,"y":3101},{"c":"150","t":"15Hp","x":17.44,"y":1814},
{"c":"200N","t":"75Hp","x":32.69,"y":7561},{"c":"200N","t":"60Hp","x":30.6,"y":6521},{"c":"200N","t":"50Hp","x":28.66,"y":5511},{"c":"200N","t":"40Hp","x":26.57,"y":4472},{"c":"200N","t":"30Hp","x":24.18,"y":3637},{"c":"200N","t":"25Hp","x":22.69,"y":3008},{"c":"200N","t":"20Hp","x":19.55,"y":2100},
{"c":"200","t":"100Hp","x":45.09,"y":7107},{"c":"200","t":"75Hp","x":41.23,"y":5945},{"c":"200","t":"60Hp","x":35.29,"y":4948},{"c":"200","t":"50Hp","x":33.36,"y":4129},{"c":"200","t":"40Hp","x":31.28,"y":3310},{"c":"200","t":"30Hp","x":29.2,"y":2610},{"c":"200","t":"25Hp","x":26.82,"y":1746},
{"c":"250","t":"150Hp","x":68.72,"y":7333},{"c":"250","t":"125Hp","x":66.5,"y":6235},{"c":"250","t":"100Hp","x":63.17,"y":4634},{"c":"250","t":"75Hp","x":59.83,"y":3818},{"c":"250","t":"60Hp","x":57.98,"y":3195},{"c":"250","t":"50Hp","x":56.31,"y":2631},{"c":"250","t":"40Hp","x":53.91,"y":2039},{"c":"250","t":"30Hp","x":50.94,"y":1371},
{"c":"300","t":"225Hp","x":118.47,"y":7295},{"c":"300","t":"200Hp","x":112.53,"y":6471},{"c":"300","t":"175Hp","x":105.1,"y":5647},{"c":"300","t":"150Hp","x":102.87,"y":4852},{"c":"300","t":"125Hp","x":93.95,"y":4147},{"c":"300","t":"100Hp","x":89.49,"y":3248},{"c":"300","t":"75Hp","x":87.64,"y":2753},{"c":"300","t":"60Hp","x":85.04,"y":2274},{"c":"300","t":"50Hp","x":80.58,"y":1494},
{"c":"350","t":"300Hp","x":166.91,"y":7530},{"c":"350","t":"250Hp","x":144.12,"y":7193},{"c":"350","t":"225Hp","x":142.65,"y":5974},{"c":"350","t":"200Hp","x":116.91,"y":6018},{"c":"350","t":"175Hp","x":127.21,"y":4770},{"c":"350","t":"150Hp","x":101.47,"y":4770},{"c":"350","t":"125Hp","x":111.03,"y":3743},{"c":"350","t":"100Hp","x":94.85,"y":3302},{"c":"350","t":"75Hp","x":94.85,"y":1952}
],
"rpm":[
{"c":"150","r":"750","x":11.64,"y":8000},{"c":"150","r":"900","x":14.47,"y":8000},{"c":"150","r":"1050","x":17.44,"y":8000},{"c":"150","r":"1200","x":20.56,"y":8000},{"c":"150","r":"1350","x":23.83,"y":8000},{"c":"150","r":"1500","x":26.94,"y":8000},{"c":"150","r":"1650","x":29.92,"y":8000},
{"c":"200N","r":"600","x":8.87,"y":8000},{"c":"200N","r":"750","x":13.28,"y":8000},{"c":"200N","r":"900","x":17.91,"y":8000},{"c":"200N","r":"1050","x":21.64,"y":8000},{"c":"200N","r":"1200","x":26.27,"y":8000},{"c":"200N","r":"1350","x":30.45,"y":8000},{"c":"200N","r":"1500","x":35.07,"y":8000},
{"c":"200","r":"750","x":18.36,"y":8000},{"c":"200","r":"900","x":23.7,"y":8000},{"c":"200","r":"1050","x":29.05,"y":8000},{"c":"200","r":"1200","x":34.25,"y":8000},{"c":"200","r":"1350","x":40.19,"y":8000},{"c":"200","r":"1500","x":46.13,"y":8000},
{"c":"250","r":"900","x":37.61,"y":8000},{"c":"250","r":"1050","x":45.76,"y":8000},{"c":"250","r":"1200","x":54.83,"y":8000},{"c":"250","r":"1350","x":63.35,"y":8000},{"c":"250","r":"1500","x":71.5,"y":8000},
{"c":"300","r":"750","x":62.01,"y":8000},{"c":"300","r":"900","x":78.35,"y":8000},{"c":"300","r":"1050","x":95.07,"y":8000},{"c":"300","r":"1200","x":112.53,"y":8000},{"c":"300","r":"1350","x":129.24,"y":8000},
{"c":"350","r":"600","x":54.41,"y":8000},{"c":"350","r":"750","x":75.0,"y":8000},{"c":"350","r":"900","x":94.85,"y":8000},{"c":"350","r":"1050","x":113.24,"y":8000},{"c":"350","r":"1200","x":133.82,"y":8000},{"c":"350","r":"1350","x":153.68,"y":8000},{"c":"350","r":"1500","x":174.26,"y":8000}
]
},
"vconcat":[
{"vconcat":[
{"hconcat":[
{"width":358,"height":157,"title":{"text":"KRS-150","offset":22,"dx":3},
"encoding":{"x":{"field":"x","type":"quantitative","scale":{"domain":[6,38],"nice":false,"zero":false},"axis":{"values":[6,8,10,12,14,16,18,20,22,24,26,28,30,32,34,36,38],"format":"d","labelExpr":"(datum.value-6)%4==0 && datum.value<=34 ? (datum.value==30 ? '38' : datum.label) : ''","title":"CAPACITY M³/min (SUCTION)"}},
"y":{"field":"y","type":"quantitative","scale":{"domain":[1000,8000],"nice":false,"zero":false},"axis":{"values":[1000,2000,3000,4000,5000,6000,7000,8000],"format":"d","title":"STATIC PRESSURE mmAq"}}},
"layer":[
{"data":{"name":"bands"},"transform":[{"filter":"datum.c=='150'"}],"mark":{"type":"line","fill":{"expr":"datum.b==4 ? a8 : (datum.b==1 ? b40 : a40)"},"stroke":"#1e1e1e","strokeWidth":1,"clip":true},"encoding":{"detail":{"field":"b"},"order":{"field":"o","type":"quantitative"}}},
{"data":{"name":"lines"},"transform":[{"filter":"datum.c=='150'"}],"mark":{"type":"line","stroke":"#1e1e1e","strokeWidth":0.9,"interpolate":"monotone","clip":true},"encoding":{"detail":{"field":"l"}}},
{"data":{"name":"hp"},"transform":[{"filter":"datum.c=='150'"}],"mark":{"type":"text","fontWeight":"bold","fontSize":9,"color":"#111"},"encoding":{"text":{"field":"t"}}},
{"data":{"name":"rpm"},"transform":[{"filter":"datum.c=='150'"}],"mark":{"type":"text","angle":270,"align":"left","baseline":"middle","dx":8,"fontSize":8.5,"color":"#555"},"encoding":{"text":{"field":"r"}}},
{"data":{"values":[{"t":"R.P.M"}]},"mark":{"type":"text","baseline":"bottom","dy":-6,"fontSize":8,"color":"#555"},"encoding":{"x":{"datum":36.0},"y":{"datum":8000},"text":{"field":"t"}}}
]},
{"width":358,"height":157,"title":{"text":"KRS-200N","offset":22,"dx":3},
"encoding":{"x":{"field":"x","type":"quantitative","scale":{"domain":[8,40],"nice":false,"zero":false},"axis":{"values":[8,10,12,14,16,18,20,22,24,26,28,30,32,34,36,38,40],"format":"d","labelExpr":"datum.value%4==0 && datum.value>=12 ? datum.label : ''","title":"CAPACITY M³/min (SUCTION)"}},
"y":{"field":"y","type":"quantitative","scale":{"domain":[1000,8000],"nice":false,"zero":false},"axis":{"values":[1000,2000,3000,4000,5000,6000,7000,8000],"format":"d","title":"STATIC PRESSURE mmAq"}}},
"layer":[
{"data":{"name":"bands"},"transform":[{"filter":"datum.c=='200N'"}],"mark":{"type":"line","fill":{"expr":"datum.b==1 ? a16 : (datum.b==4 ? b50 : a50)"},"stroke":"#1e1e1e","strokeWidth":1,"clip":true},"encoding":{"detail":{"field":"b"},"order":{"field":"o","type":"quantitative"}}},
{"data":{"name":"lines"},"transform":[{"filter":"datum.c=='200N'"}],"mark":{"type":"line","stroke":"#1e1e1e","strokeWidth":0.9,"interpolate":"monotone","clip":true},"encoding":{"detail":{"field":"l"}}},
{"data":{"name":"hp"},"transform":[{"filter":"datum.c=='200N'"}],"mark":{"type":"text","fontWeight":"bold","fontSize":9,"color":"#111"},"encoding":{"text":{"field":"t"}}},
{"data":{"name":"rpm"},"transform":[{"filter":"datum.c=='200N'"}],"mark":{"type":"text","angle":270,"align":"left","baseline":"middle","dx":8,"fontSize":8.5,"color":"#555"},"encoding":{"text":{"field":"r"}}},
{"data":{"values":[{"t":"R.P.M"}]},"mark":{"type":"text","baseline":"bottom","dy":-8,"fontSize":8,"color":"#555"},"encoding":{"x":{"datum":38.5},"y":{"datum":8000},"text":{"field":"t"}}}
]}
],"spacing":84},
{"hconcat":[
{"width":358,"height":157,"title":{"text":"KRS-200","offset":3,"dx":3},
"encoding":{"x":{"field":"x","type":"quantitative","scale":{"domain":[18,50],"nice":false,"zero":false},"axis":{"values":[18,20,22,24,26,28,30,32,34,36,38,40,42,44,46,48,50],"format":"d","labelExpr":"(datum.value-18)%4==0 ? datum.label : ''","title":"CAPACITY M³/min (SUCTION)"}},
"y":{"field":"y","type":"quantitative","scale":{"domain":[1000,8000],"nice":false,"zero":false},"axis":{"values":[1000,2000,3000,4000,5000,6000,7000,8000],"format":"d","title":"STATIC PRESSURE mmAq"}}},
"layer":[
{"data":{"name":"bands"},"transform":[{"filter":"datum.c=='200'"}],"mark":{"type":"line","fill":{"expr":"datum.b==2 ? b25 : (datum.b==4 ? c50 : b50)"},"stroke":"#1e1e1e","strokeWidth":1,"clip":true},"encoding":{"detail":{"field":"b"},"order":{"field":"o","type":"quantitative"}}},
{"data":{"name":"lines"},"transform":[{"filter":"datum.c=='200'"}],"mark":{"type":"line","stroke":"#1e1e1e","strokeWidth":0.9,"interpolate":"monotone","clip":true},"encoding":{"detail":{"field":"l"}}},
{"data":{"name":"hp"},"transform":[{"filter":"datum.c=='200'"}],"mark":{"type":"text","fontWeight":"bold","fontSize":9,"color":"#111"},"encoding":{"text":{"field":"t"}}},
{"data":{"name":"rpm"},"transform":[{"filter":"datum.c=='200'"}],"mark":{"type":"text","angle":270,"align":"left","baseline":"middle","dx":8,"fontSize":8.5,"color":"#555"},"encoding":{"text":{"field":"r"}}},
{"data":{"values":[{"t":"R.P.M"}]},"mark":{"type":"text","baseline":"bottom","dy":-7,"fontSize":8,"color":"#555"},"encoding":{"x":{"datum":48.4},"y":{"datum":8000},"text":{"field":"t"}}}
]},
{"width":348,"height":157,"title":{"text":"KRS-250","offset":3,"dx":3},
"encoding":{"x":{"field":"x","type":"quantitative","scale":{"domain":[37.5,76.25],"nice":false,"zero":false},"axis":{"values":[37.5,40,42.5,45,47.5,50,52.5,55,57.5,60,62.5,65,67.5,70,72.5,75],"format":"d","labelExpr":"datum.value%5==0 ? datum.label : ''","title":"CAPACITY M³/min (SUCTION)"}},
"y":{"field":"y","type":"quantitative","scale":{"domain":[1000,8000],"nice":false,"zero":false},"axis":{"values":[1000,2000,3000,4000,5000,6000,7000,8000],"format":"d","title":"STATIC PRESSURE mmAq"}}},
"layer":[
{"data":{"name":"bands"},"transform":[{"filter":"datum.c=='250'"}],"mark":{"type":"line","fill":{"expr":"datum.b==3 ? c50 : (datum.b==4 ? d50 : b50)"},"stroke":"#1e1e1e","strokeWidth":1,"clip":true},"encoding":{"detail":{"field":"b"},"order":{"field":"o","type":"quantitative"}}},
{"data":{"name":"lines"},"transform":[{"filter":"datum.c=='250'"}],"mark":{"type":"line","stroke":"#1e1e1e","strokeWidth":0.9,"interpolate":"monotone","clip":true},"encoding":{"detail":{"field":"l"}}},
{"data":{"name":"hp"},"transform":[{"filter":"datum.c=='250'"}],"mark":{"type":"text","fontWeight":"bold","fontSize":9,"color":"#111"},"encoding":{"text":{"field":"t"}}},
{"data":{"name":"rpm"},"transform":[{"filter":"datum.c=='250'"}],"mark":{"type":"text","angle":270,"align":"left","baseline":"middle","dx":8,"fontSize":8.5,"color":"#555"},"encoding":{"text":{"field":"r"}}},
{"data":{"values":[{"t":"R.P.M"}]},"mark":{"type":"text","baseline":"bottom","dy":-8,"fontSize":8,"color":"#555"},"encoding":{"x":{"datum":75.4},"y":{"datum":8000},"text":{"field":"t"}}}
]}
],"spacing":80}
],"spacing":46},
{"hconcat":[
{"width":358,"height":157,"title":{"text":"KRS-300","offset":8,"dx":3},
"encoding":{"x":{"field":"x","type":"quantitative","scale":{"domain":[60,140],"nice":false,"zero":false},"axis":{"values":[60,65,70,75,80,85,90,95,100,105,110,115,120,125,130,135,140],"format":"d","labelExpr":"datum.value%10==0 ? datum.label : ''","title":"CAPACITY M³/min (SUCTION)"}},
"y":{"field":"y","type":"quantitative","scale":{"domain":[1000,8000],"nice":false,"zero":false},"axis":{"values":[1000,2000,3000,4000,5000,6000,7000,8000],"format":"d","title":"STATIC PRESSURE mmAq"}}},
"layer":[
{"data":{"name":"bands"},"transform":[{"filter":"datum.c=='300'"}],"mark":{"type":"line","fill":{"expr":"datum.b==2 ? b25 : (datum.b>=4 ? d50 : b50)"},"stroke":"#1e1e1e","strokeWidth":1,"clip":true},"encoding":{"detail":{"field":"b"},"order":{"field":"o","type":"quantitative"}}},
{"data":{"name":"lines"},"transform":[{"filter":"datum.c=='300'"}],"mark":{"type":"line","stroke":"#1e1e1e","strokeWidth":0.9,"interpolate":"monotone","clip":true},"encoding":{"detail":{"field":"l"}}},
{"data":{"name":"hp"},"transform":[{"filter":"datum.c=='300'"}],"mark":{"type":"text","fontWeight":"bold","fontSize":9,"color":"#111"},"encoding":{"text":{"field":"t"}}},
{"data":{"name":"rpm"},"transform":[{"filter":"datum.c=='300'"}],"mark":{"type":"text","angle":270,"align":"left","baseline":"middle","dx":8,"fontSize":8.5,"color":"#555"},"encoding":{"text":{"field":"r"}}},
{"data":{"values":[{"t":"R.P.M"}]},"mark":{"type":"text","baseline":"bottom","dy":-8,"fontSize":8,"color":"#555"},"encoding":{"x":{"datum":136.7},"y":{"datum":8000},"text":{"field":"t"}}}
]},
{"width":363,"height":157,"title":{"text":"KRS-350","offset":8,"dx":3},
"encoding":{"x":{"field":"x","type":"quantitative","scale":{"domain":[40,200],"nice":false,"zero":false},"axis":{"values":[40,50,60,70,80,90,100,110,120,130,140,150,160,170,180,190,200],"format":"d","labelExpr":"datum.value%20==0 && datum.value>=60 ? datum.label : ''","title":"CAPACITY M³/min (SUCTION)"}},
"y":{"field":"y","type":"quantitative","scale":{"domain":[1000,8000],"nice":false,"zero":false},"axis":{"values":[1000,2000,3000,4000,5000,6000,7000,8000],"format":"d","title":"STATIC PRESSURE mmAq"}}},
"layer":[
{"data":{"name":"bands"},"transform":[{"filter":"datum.c=='350'"}],"mark":{"type":"line","fill":{"expr":"datum.b==1 ? a16 : (datum.b==2 ? a40 : (datum.b==5 ? b50 : a50))"},"stroke":"#1e1e1e","strokeWidth":1,"clip":true},"encoding":{"detail":{"field":"b"},"order":{"field":"o","type":"quantitative"}}},
{"data":{"name":"lines"},"transform":[{"filter":"datum.c=='350'"}],"mark":{"type":"line","stroke":"#1e1e1e","strokeWidth":0.9,"interpolate":"monotone","clip":true},"encoding":{"detail":{"field":"l"}}},
{"data":{"name":"hp"},"transform":[{"filter":"datum.c=='350'"}],"mark":{"type":"text","fontWeight":"bold","fontSize":9,"color":"#111"},"encoding":{"text":{"field":"t"}}},
{"data":{"name":"rpm"},"transform":[{"filter":"datum.c=='350'"}],"mark":{"type":"text","angle":270,"align":"left","baseline":"middle","dx":8,"fontSize":8.5,"color":"#555"},"encoding":{"text":{"field":"r"}}},
{"data":{"values":[{"t":"R.P.M"}]},"mark":{"type":"text","baseline":"bottom","dy":-6,"fontSize":8,"color":"#555"},"encoding":{"x":{"datum":191.6},"y":{"datum":8000},"text":{"field":"t"}}}
]}
],"spacing":78}
],
"spacing":36,
"config":{
"font":"Liberation Sans",
"view":{"stroke":"#222","strokeWidth":1},
"axis":{"grid":true,"zindex":1,"gridColor":"#333","gridOpacity":0.9,"gridWidth":0.8,"domain":false,"ticks":false,"labelFontSize":8.5,"labelColor":"#555","titleFontSize":8.5,"titleFontWeight":"normal","titleColor":"#444","labelPadding":3},
"axisX":{"labelFlush":false,"titlePadding":2},
"axisY":{"labelPadding":2,"titlePadding":3},
"title":{"fontSize":19,"fontWeight":"normal","color":"#333","anchor":"start","font":"Liberation Sans"}
}
}
